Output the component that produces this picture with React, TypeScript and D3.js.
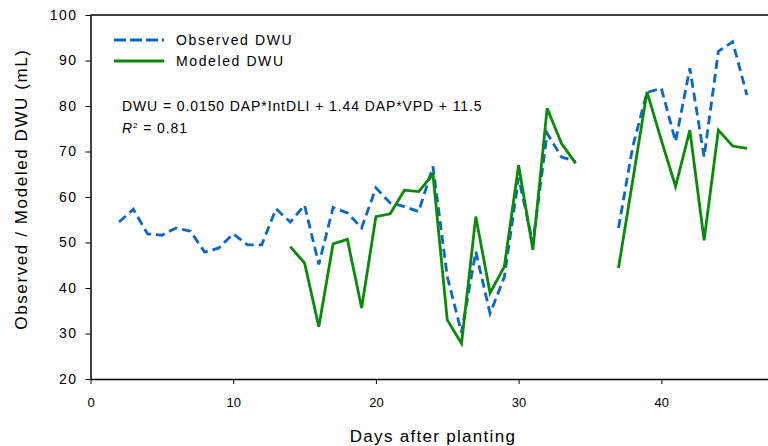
import React, { useEffect, useRef } from 'react';
import * as d3 from 'd3';

// days after planting (35 and 36 missing)
const days = [2, 3, 4, 5, 6, 7, 8, 9, 10, 11, 12, 13, 14, 15, 16, 17, 18, 19, 20, 21, 22, 23, 24, 25, 26, 27, 28, 29, 30, 31, 32, 33, 34, 35, 36, 37, 38, 39, 40, 41, 42, 43, 44, 45, 46];
const observed = [54.5, 57.3, 51.9, 51.6, 53.2, 52.5, 47.9, 48.8, 51.9, 49.5, 49.5, 57.4, 54.5, 58.2, 45.2, 57.7, 56.5, 53.2, 62, 58.7, 57.9, 56.8, 66.7, 42.5, 30.2, 48, 34.4, 42.4, 64.2, 49.9, 74, 68.8, 67.8, null, null, 53.2, 71.1, 83, 83.9, 72.2, 88.3, 68.8, 92, 94.1, 82.4];
const modeled = [null, null, null, null, null, null, null, null, null, null, null, null, 49.1, 45.5, 31.5, 49.7, 50.7, 35.6, 55.7, 56.3, 61.5, 61.2, 65, 33, 27.8, 55.7, 38.9, 44.7, 67, 48.4, 79.5, 71.8, 67.4, null, null, 44.4, 63.7, 83.1, 72.5, 62.3, 74.7, 50.5, 74.7, 71.2, 70.7];

const xTicks = [0, 10, 20, 30, 40];
const yTicks = [20, 30, 40, 50, 60, 70, 80, 90, 100];

const BLUE = '#0a66c8';
const GREEN = '#0a8a0a';
const FONT = 'Liberation Sans, Arial, sans-serif';

const App = () => {
  const svgRef = useRef(null);

  useEffect(() => {
    const svg = d3.select(svgRef.current);
    svg.selectAll('*').remove();

    const width = 768;
    const height = 446;
    const left = 90.5;
    const top = 15;
    const bottom = 379;

    const x = d3.scaleLinear().domain([0, 48]).range([left, left + 48 * 14.27]);
    const y = d3.scaleLinear().domain([20, 100]).range([bottom, top]);

    svg.attr('width', width).attr('height', height);

    // frame top line
    svg.append('line')
      .attr('x1', left).attr('x2', width + 10)
      .attr('y1', top).attr('y2', top)
      .attr('stroke', '#000').attr('stroke-width', 1.5);

    const xAxis = svg.append('g')
      .attr('transform', `translate(0, ${bottom})`)
      .call(d3.axisBottom(x).tickValues(xTicks).tickSize(5).tickPadding(14).tickSizeOuter(0));
    xAxis.select('.domain').attr('stroke-width', 1.5);
    xAxis.selectAll('text').style('font-family', FONT).style('font-size', '13px').style('fill', '#000');

    const yAxis = svg.append('g')
      .attr('transform', `translate(${left}, 0)`)
      .call(d3.axisLeft(y).tickValues(yTicks).tickSize(5).tickPadding(8).tickSizeOuter(0));
    yAxis.select('.domain').attr('stroke-width', 1.5);
    yAxis.selectAll('text').style('font-family', FONT).style('font-size', '14px')
      .style('letter-spacing', '1.5px').style('fill', '#000');

    const line = d3.line()
      .defined(d => d[1] != null)
      .x(d => x(d[0]))
      .y(d => y(d[1]));

    svg.append('path')
      .datum(days.map((d, i) => [d, observed[i]]))
      .attr('d', line)
      .attr('fill', 'none')
      .attr('stroke', BLUE)
      .attr('stroke-width', 2.8)
      .attr('stroke-dasharray', '9,5');

    svg.append('path')
      .datum(days.map((d, i) => [d, modeled[i]]))
      .attr('d', line)
      .attr('fill', 'none')
      .attr('stroke', GREEN)
      .attr('stroke-width', 2.8);

    // legend
    const legend = [
      { label: 'Observed DWU', color: BLUE, dash: '12,4', yy: 40 },
      { label: 'Modeled DWU', color: GREEN, dash: null, yy: 61 },
    ];
    legend.forEach(l => {
      svg.append('line')
        .attr('x1', 114).attr('x2', 164)
        .attr('y1', l.yy).attr('y2', l.yy)
        .attr('stroke', l.color).attr('stroke-width', 2.8)
        .attr('stroke-dasharray', l.dash);
      svg.append('text')
        .attr('x', 176).attr('y', l.yy + 5)
        .style('font-family', FONT).style('font-size', '14px').style('letter-spacing', '1.6px')
        .text(l.label);
    });

    svg.append('text')
      .attr('x', 122).attr('y', 111)
      .style('font-family', FONT).style('font-size', '14px').style('letter-spacing', '0.9px')
      .text('DWU = 0.0150 DAP*IntDLI + 1.44 DAP*VPD + 11.5');

    const r2 = svg.append('text')
      .attr('x', 122).attr('y', 133)
      .style('font-family', FONT).style('font-size', '14px').style('letter-spacing', '0.9px');
    r2.append('tspan').style('font-style', 'italic').text('R');
    r2.append('tspan').attr('dy', -5).style('font-size', '8px').text('2');
    r2.append('tspan').attr('dy', 5).text(' = 0.81');

    svg.append('text')
      .attr('x', x(24)).attr('y', 442)
      .attr('text-anchor', 'middle')
      .style('font-family', FONT).style('font-size', '17px').style('letter-spacing', '1.3px')
      .text('Days after planting');

    svg.append('text')
      .attr('transform', `translate(27, 189) rotate(-90)`)
      .attr('text-anchor', 'middle')
      .style('font-family', FONT).style('font-size', '17px').style('letter-spacing', '1.6px')
      .text('Observed / Modeled DWU (mL)');
  }, []);

  return <svg ref={svgRef} style={{ position: 'absolute', left: 0, top: 0 }}></svg>;
};

export default App;
